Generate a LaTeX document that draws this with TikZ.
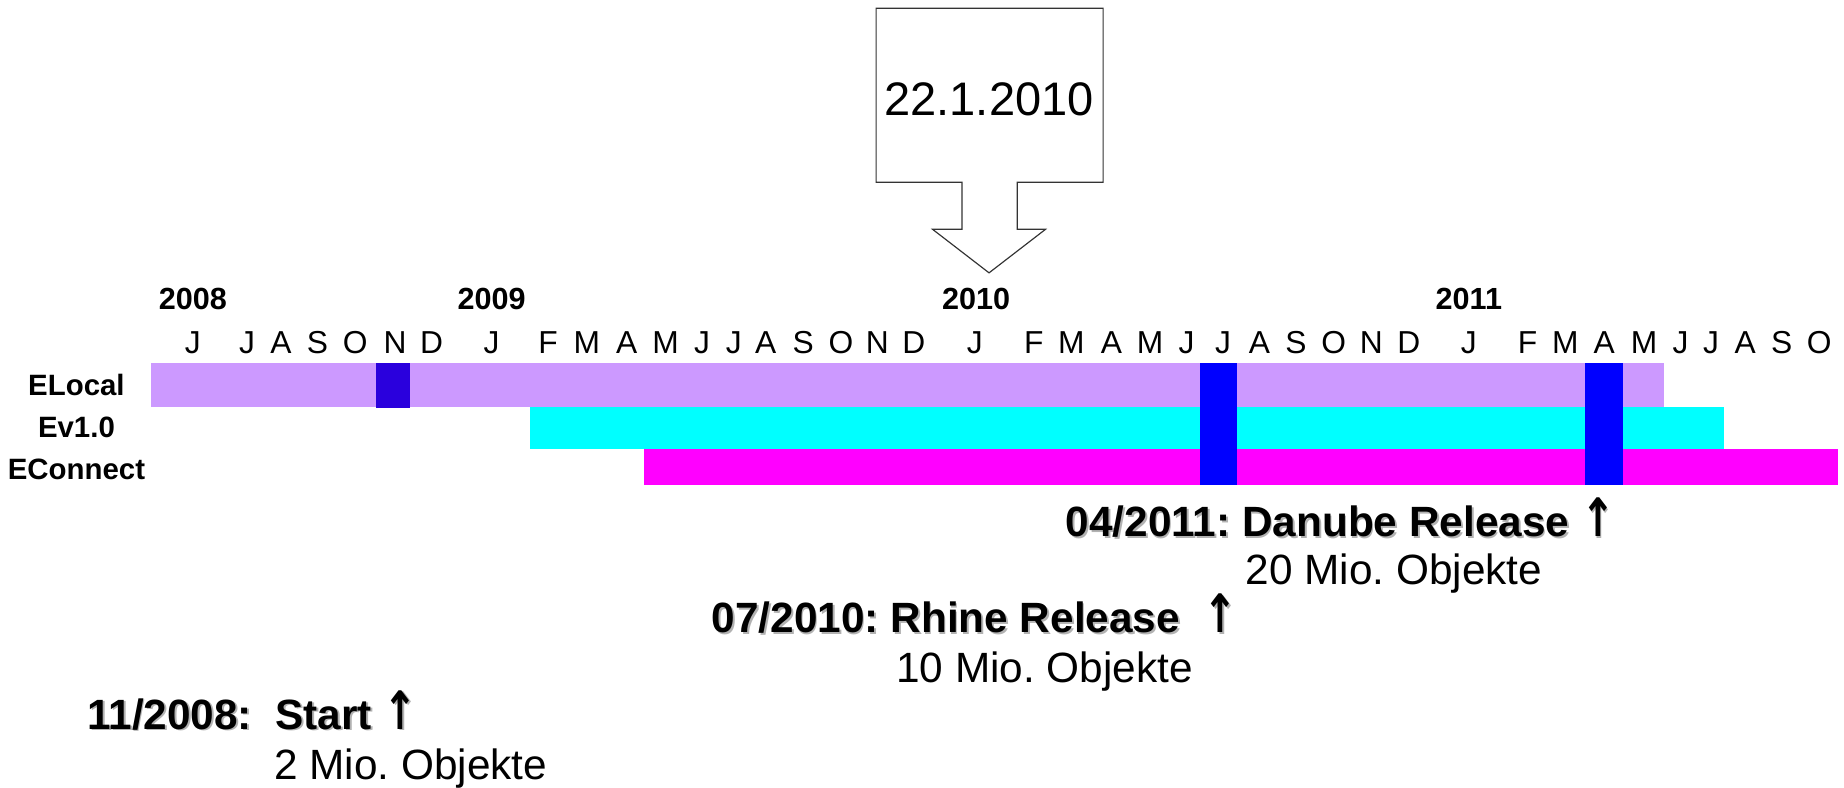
\documentclass[tikz,border=0pt]{standalone}
\usepackage{fontspec}
\setmainfont{Liberation Sans}
\newfontfamily\arrowfont{DejaVu Sans}
\definecolor{localbar}{HTML}{CC99FF}
\definecolor{versionbar}{HTML}{00FFFF}
\definecolor{connectbar}{HTML}{FF00FF}
\definecolor{release}{HTML}{0000FF}
\definecolor{startmark}{HTML}{2A00DD}
\frenchspacing
\newcommand\shadowtxt[1]{\rlap{\kern1.5pt\raisebox{-1.5pt}{\color{black!30}#1}}#1}
\newcommand\uparr{\scalebox{0.95}[1.25]{\arrowfont\bfseries ↑}}
\tikzset{
  yearlabel/.style={font=\fontsize{26}{26}\selectfont\bfseries, anchor=base, inner sep=0},
  monthlabel/.style={font=\fontsize{27}{27}\selectfont, anchor=base, inner sep=0},
  rowlabel/.style={font=\fontsize{25}{25}\selectfont\bfseries, anchor=base, inner sep=0},
  mstitle/.style={font=\fontsize{36}{36}\selectfont\bfseries, anchor=base west, inner sep=0},
  msnote/.style={font=\fontsize{36}{36}\selectfont, anchor=base west, inner sep=0},
}
\begin{document}
\begin{tikzpicture}[x=1pt, y=-1pt]
\useasboundingbox (0,0) rectangle (1568,670);
% callout with the date
\draw[line width=1pt, black!80] (745,7) -- (938,7) -- (938,155) -- (865,155) -- (865,195)
  -- (889,195) -- (841,232) -- (793,195) -- (818,195) -- (818,155) -- (745,155) -- cycle;
\node[font=\fontsize{40}{40}\selectfont, anchor=base, inner sep=0] (callout) at (841,98) {22.1.2010};
% years and months
\foreach \x/\y in {164/2008, 418/2009, 830/2010, 1249/2011}
  \node[yearlabel] (y\y) at (\x,263) {\y};
\foreach \x/\m [count=\i] in {164/J, 210/J, 239/A, 270/S, 302/O, 336/N, 367/D,
    418/J, 466/F, 499/M, 533/A, 566/M, 597/J, 624/J, 651/A, 683/S, 715/O, 746/N, 777/D,
    829/J, 879/F, 911/M, 945/A, 978/M, 1009/J, 1040/J, 1071/A, 1102/S, 1134/O, 1166/N, 1198/D,
    1249/J, 1299/F, 1331/M, 1364/A, 1398/M, 1429/J, 1455/J, 1484/A, 1515/S, 1547/O}
  \node[monthlabel] (m\i) at (\x,301) {\m};
% bars
\fill[localbar] (128,309) rectangle (1415,346);
\fill[versionbar] (451,346) rectangle (1466,382);
\fill[connectbar] (548,382) rectangle (1563,412);
\fill[startmark] (320,309) rectangle (349,347);
\foreach \x in {1020, 1348}
  \fill[release] (\x,309) rectangle +(32,103);
\foreach \y/\t in {336/ELocal, 372/Ev1.0, 408/EConnect}
  \node[rowlabel] (r\t) at (65,\y) {\t};
% milestones
\node[mstitle] (danube) at (906,456) {\shadowtxt{04/2011: Danube Release \uparr}};
\node[msnote] (danubenote) at (1059,497) {20 Mio. Objekte};
\node[mstitle] (rhine) at (605,538) {\shadowtxt{07/2010: Rhine Release~~\uparr}};
\node[msnote] (rhinenote) at (762,580) {10 Mio. Objekte};
\node[mstitle] (start) at (74,620) {\shadowtxt{11/2008:~~Start \uparr}};
\node[msnote] (startnote) at (233,663) {2 Mio. Objekte};
\end{tikzpicture}
\end{document}
